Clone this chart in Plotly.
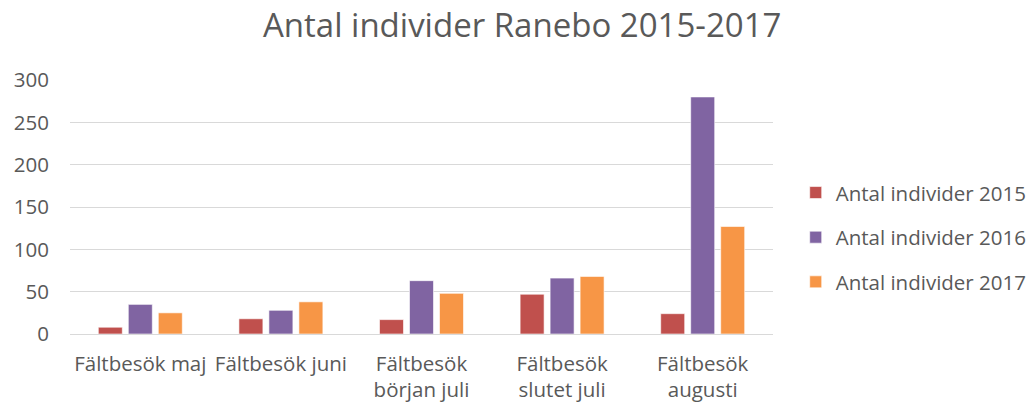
import plotly.graph_objects as go

categories = ["Fältbesök maj", "Fältbesök juni", "Fältbesök<br>början juli", "Fältbesök<br>slutet juli", "Fältbesök<br>augusti"]
series_names = ["Antal individer 2015", "Antal individer 2016", "Antal individer 2017"]
vals_2015 = [8, 18, 17, 47, 24]
vals_2016 = [35, 28, 63, 66, 280]
vals_2017 = [25, 38, 48, 68, 127]
colors = ["#C0504D", "#8064A2", "#F79646"]
y_ticks = [0, 50, 100, 150, 200, 250, 300]

font_family = "Open Sans, Liberation Sans, sans-serif"
fig = go.Figure()
for name, vals, col in zip(series_names, [vals_2015, vals_2016, vals_2017], colors):
    fig.add_trace(go.Bar(x=categories, y=vals, name=name, legendgroup=name,
                         marker=dict(color=col, line=dict(color="rgba(255,255,255,0.6)", width=1))))

fig.update_layout(
    width=1034, height=406,
    margin=dict(l=70, r=261, t=80, b=72, autoexpand=False),
    paper_bgcolor="white", plot_bgcolor="white",
    barmode="group", bargap=0.36, bargroupgap=0.2,
    title=dict(text="Antal individer Ranebo 2015-2017", x=0.505, xanchor="center", y=0.938, yanchor="middle",
               font=dict(family=font_family, size=33, color="#595959")),
    font=dict(family=font_family, size=20.5, color="#595959"),
    legend=dict(x=1.0323, y=0.635, xanchor="left", yanchor="top", tracegroupgap=15,
                font=dict(size=20.5, color="#595959"), itemwidth=30),
    xaxis=dict(showline=False, ticks="", automargin=False, ticklabelstandoff=15,
               tickfont=dict(size=20.5, color="#595959")),
    yaxis=dict(range=[0, 300], tickvals=y_ticks, showgrid=True, gridcolor="#D9D9D9", gridwidth=1,
               zeroline=True, zerolinecolor="#D9D9D9", zerolinewidth=1, ticks="", ticklabelstandoff=20,
               automargin=False, tickfont=dict(size=20.5, color="#595959")),
)
fig.write_html("out.html", config={"displayModeBar": False},
               post_script="document.body.style.margin='0';")
